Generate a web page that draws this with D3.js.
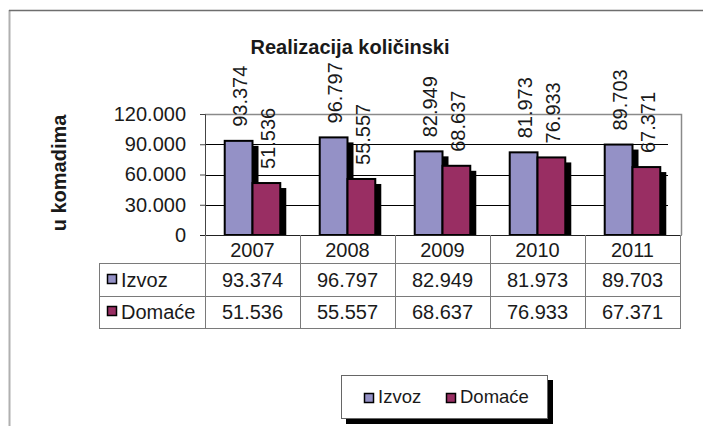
<!DOCTYPE html>
<html>
<head>
<meta charset="utf-8">
<script src="https://cdn.jsdelivr.net/npm/d3@7/dist/d3.min.js"></script>
<style>
  html, body { margin: 0; padding: 0; background: #fff; }
  svg { display: block; font-family: "Liberation Sans", Arial, sans-serif; }
</style>
</head>
<body>
<svg id="chart" width="703" height="426"></svg>
<script>
const years = ["2007", "2008", "2009", "2010", "2011"];
const seriesNames = ["Izvoz", "Domaće"];
const izvoz = [93374, 96797, 82949, 81973, 89703];
const domace = [51536, 55557, 68637, 76933, 67371];
const yTicks = [0, 30000, 60000, 90000, 120000];
const colors = ["#9491c6", "#992e63"];
const title = "Realizacija količinski";
const yTitle = "u komadima";

const seriesValues = [izvoz, domace];
const svg = d3.select("#chart");
const fmt = d3.formatLocale({ decimal: ",", thousands: ".", grouping: [3], currency: ["", ""] }).format(",");
const textColor = "#1a1a1a";

const plotL = 205, plotR = 681, plotT = 114, plotB = 235;
const tableR = 680, tableL = 99;
const rowH = [263, 296, 328];

const x0 = d3.scaleBand().domain(years).range([plotL, tableR]).padding(0);
const x1 = d3.scaleBand().domain(seriesNames).range([0, x0.bandwidth()]).paddingInner(0).paddingOuter(0.71);
const y = d3.scaleLinear().domain([0, 120000]).range([plotB, plotT]);

// outer frame
svg.append("line").attr("x1", 9.5).attr("x2", 9.5).attr("y1", 10).attr("y2", 426)
  .attr("stroke", "#b0b0b0").attr("stroke-width", 2);
svg.append("line").attr("x1", 9).attr("x2", 703).attr("y1", 10.5).attr("y2", 10.5)
  .attr("stroke", "#6e6e6e").attr("stroke-width", 1.4);

// title
svg.append("text").attr("x", 350).attr("y", 54).attr("text-anchor", "middle")
  .attr("font-size", 20).attr("font-weight", "bold").attr("fill", textColor).text(title);

// y title
svg.append("text").attr("transform", "translate(66,173) rotate(-90)").attr("text-anchor", "middle")
  .attr("font-size", 20).attr("font-weight", "bold").attr("fill", textColor).text(yTitle);

// gridlines
svg.append("g").selectAll("line").data(yTicks.filter(t => t > 0 && t < 120000)).join("line")
  .attr("x1", plotL).attr("x2", 668).attr("y1", d => Math.round(y(d)) + 0.5).attr("y2", d => Math.round(y(d)) + 0.5)
  .attr("stroke", "#000").attr("stroke-width", 1);

// plot border (gray)
svg.append("path")
  .attr("d", `M${plotL},${plotT + 0.5}H${plotR + 0.5}V${plotB}`)
  .attr("fill", "none").attr("stroke", "#8a8a8a").attr("stroke-width", 1.5);

// y axis
const yAxis = d3.axisLeft(y).tickValues(yTicks).tickSize(5).tickPadding(14).tickFormat(d => fmt(d));
const gy = svg.append("g").attr("transform", `translate(${plotL},0)`).call(yAxis);
gy.select(".domain").attr("stroke", "#444").attr("stroke-width", 1);
gy.selectAll(".tick line").attr("stroke", "#444");
gy.selectAll(".tick text").attr("font-size", 20).attr("fill", textColor)
  .attr("font-family", "Liberation Sans, Arial, sans-serif");

// bars data
const barData = [];
years.forEach((yr, i) => {
  seriesNames.forEach((s, j) => {
    barData.push({ year: yr, series: s, j, value: seriesValues[j][i] });
  });
});
const bx = d => x0(d.year) + x1(d.series);
const bw = x1.bandwidth();

// shadows (depth)
svg.append("g").selectAll("rect").data(barData).join("rect")
  .attr("x", d => bx(d) + 6).attr("y", d => y(d.value) + 5)
  .attr("width", bw).attr("height", d => plotB - y(d.value) - 5)
  .attr("fill", "#000");

// bars
svg.append("g").selectAll("rect").data(barData).join("rect")
  .attr("x", d => bx(d)).attr("y", d => y(d.value))
  .attr("width", bw).attr("height", d => plotB - y(d.value))
  .attr("fill", d => colors[d.j]).attr("stroke", "#000").attr("stroke-width", 2);

// zero axis line
svg.append("line").attr("x1", plotL - 5).attr("x2", plotR + 0.5).attr("y1", plotB + 0.5).attr("y2", plotB + 0.5)
  .attr("stroke", "#222").attr("stroke-width", 1.2);

// data labels (rotated)
svg.append("g").selectAll("text").data(barData).join("text")
  .attr("transform", d => `translate(${bx(d) + bw / 2 + 1},${y(d.value) - 14}) rotate(-90)`)
  .attr("dy", "0.36em").attr("font-size", 20).attr("fill", textColor)
  .text(d => fmt(d.value));

// table
const tg = svg.append("g");
const lineColor = "#7a7a7a";
const vx = years.map(yr => x0(yr)).concat([tableR]);
tg.selectAll("line.v").data(vx).join("line").attr("class", "v")
  .attr("x1", d => d + 0.5).attr("x2", d => d + 0.5).attr("y1", plotB).attr("y2", rowH[2])
  .attr("stroke", lineColor).attr("stroke-width", 1);
tg.append("line").attr("x1", tableL + 0.5).attr("x2", tableL + 0.5).attr("y1", rowH[0]).attr("y2", rowH[2])
  .attr("stroke", lineColor);
tg.selectAll("line.h").data(rowH).join("line").attr("class", "h")
  .attr("x1", tableL).attr("x2", tableR + 1).attr("y1", d => d + 0.5).attr("y2", d => d + 0.5)
  .attr("stroke", lineColor);

// header years
tg.selectAll("text.yr").data(years).join("text").attr("class", "yr")
  .attr("x", d => x0(d) + x0.bandwidth() / 2).attr("y", 257)
  .attr("text-anchor", "middle").attr("font-size", 20).attr("fill", textColor).text(d => d);

// rows
const rowBase = [287, 319];
seriesNames.forEach((s, j) => {
  tg.append("rect").attr("x", 107.5).attr("y", rowBase[j] - 12.5).attr("width", 9).attr("height", 9)
    .attr("fill", colors[j]).attr("stroke", "#000").attr("stroke-width", 1.5);
  tg.append("text").attr("x", 121).attr("y", rowBase[j]).attr("font-size", 20).attr("fill", textColor).text(s);
  tg.selectAll("text.r" + j).data(seriesValues[j]).join("text").attr("class", "r" + j)
    .attr("x", (d, i) => x0(years[i]) + x0.bandwidth() / 2).attr("y", rowBase[j])
    .attr("text-anchor", "middle").attr("font-size", 20).attr("fill", textColor).text(d => fmt(d));
});

// legend
const lg = svg.append("g");
lg.append("rect").attr("x", 346).attr("y", 380).attr("width", 207).attr("height", 44).attr("fill", "#000");
lg.append("rect").attr("x", 341.5).attr("y", 375.5).attr("width", 206).attr("height", 43)
  .attr("fill", "#fff").attr("stroke", "#666").attr("stroke-width", 1);
const legX = [364, 446];
seriesNames.forEach((s, j) => {
  lg.append("rect").attr("x", legX[j] + 0.5).attr("y", 393.5).attr("width", 9).attr("height", 9)
    .attr("fill", colors[j]).attr("stroke", "#000").attr("stroke-width", 1.5);
  lg.append("text").attr("x", legX[j] + 14).attr("y", 403).attr("font-size", 18.5).attr("fill", textColor).text(s);
});
</script>
</body>
</html>
